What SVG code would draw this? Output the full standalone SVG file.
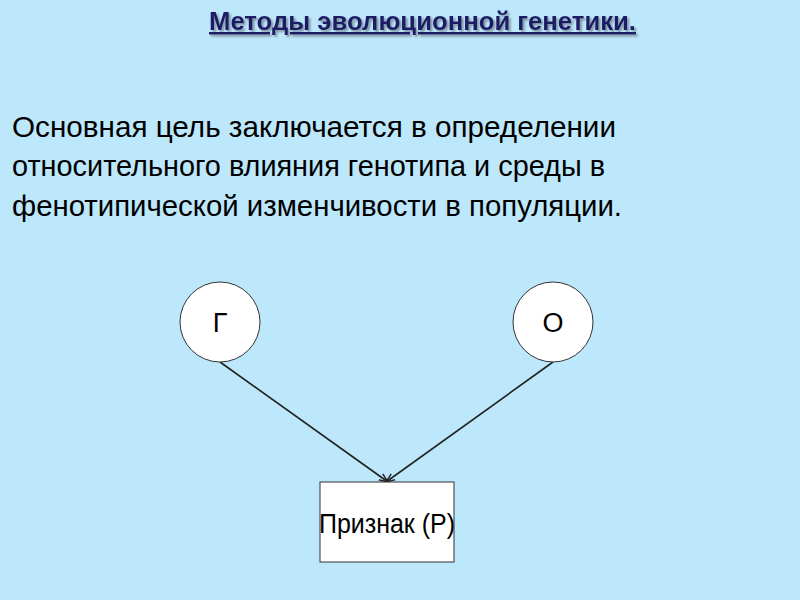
<svg xmlns="http://www.w3.org/2000/svg" width="800" height="600" viewBox="0 0 800 600">
<defs>
<style>
.title{font-family:"Liberation Sans",Arial,sans-serif;font-weight:bold;font-size:25px;fill:#1c1c66;text-decoration:underline}
.body{font-family:"Liberation Sans",Arial,sans-serif;font-size:30px;fill:#000}
.node{fill:#fff;stroke:#333;stroke-width:1}
.lbl{font-family:"Liberation Sans",Arial,sans-serif;font-size:27px;fill:#000;text-anchor:middle}
.conn{stroke:#222;stroke-width:1.6;fill:none}
</style>
<filter id="shd" x="-5%" y="-20%" width="110%" height="150%">
<feDropShadow dx="2" dy="2" stdDeviation="0.8" flood-color="#6f7f8c" flood-opacity="0.8"/>
</filter>
<marker id="arr" viewBox="0 0 10 10" refX="10" refY="5" markerWidth="9" markerHeight="9" orient="auto" markerUnits="userSpaceOnUse">
<path d="M0,1 L10,5 L0,9" fill="none" stroke="#222" stroke-width="1.6"/>
</marker>
</defs>
<rect x="0" y="0" width="800" height="600" fill="#bde7fb"/>
<text class="title" x="209" y="30" textLength="427" lengthAdjust="spacingAndGlyphs" filter="url(#shd)">Методы эволюционной генетики.</text>
<text class="body" x="12" y="137" textLength="604" lengthAdjust="spacingAndGlyphs">Основная цель заключается в определении</text>
<text class="body" x="12" y="176" textLength="593" lengthAdjust="spacingAndGlyphs">относительного влияния генотипа и среды в</text>
<text class="body" x="12" y="216" textLength="610" lengthAdjust="spacingAndGlyphs">фенотипической изменчивости в популяции.</text>
<g id="connectors">
<line class="conn" x1="220" y1="362" x2="388" y2="482" marker-end="url(#arr)"/>
<line class="conn" x1="553" y1="362" x2="386" y2="482" marker-end="url(#arr)"/>
</g>
<g id="node-G">
<circle class="node" cx="220" cy="322" r="40"/>
<text class="lbl" x="220" y="332">Г</text>
</g>
<g id="node-O">
<circle class="node" cx="553" cy="322" r="40"/>
<text class="lbl" x="553" y="332">О</text>
</g>
<g id="node-P">
<rect class="node" x="320" y="482" width="134" height="80"/>
<text class="lbl" x="387" y="533" textLength="136" lengthAdjust="spacingAndGlyphs">Признак (Р)</text>
</g>
</svg>
